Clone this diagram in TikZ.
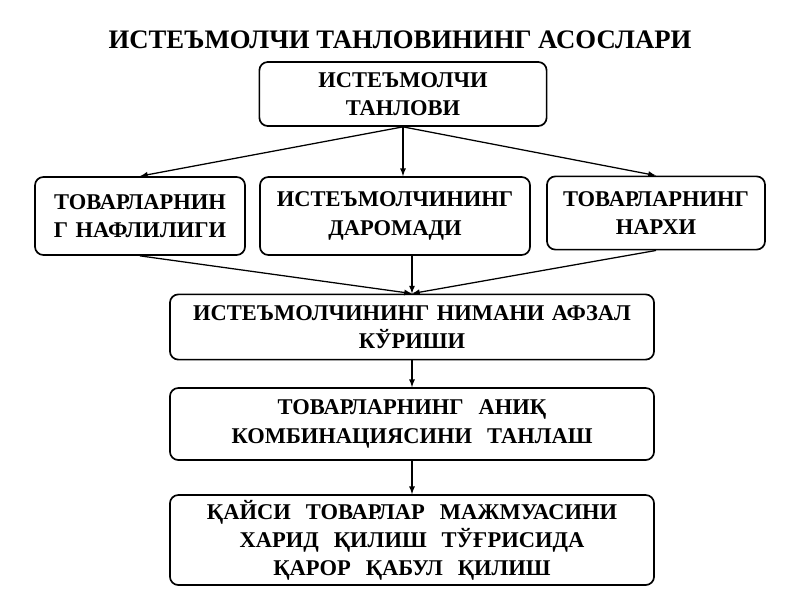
\documentclass[tikz,border=0pt]{standalone}
\usepackage{fontspec}
\setmainfont{Liberation Serif}
\usetikzlibrary{positioning}
\begin{document}
\begin{tikzpicture}[x=0.025cm,y=-0.025cm,->,>=latex]
  \tikzstyle{box}=[draw,rounded corners=6pt,line width=1.2pt,align=center,font=\fontsize{16}{20}\selectfont\bfseries,inner sep=2pt]
  \tikzstyle{line}=[draw,line width=0.9pt]
  \useasboundingbox (0,0) rectangle (800,600);
  \node[font=\fontsize{19}{22}\selectfont\bfseries] (title) at (400,40) {ИСТЕЪМОЛЧИ ТАНЛОВИНИНГ АСОСЛАРИ};
  \node[box,minimum width=7.18cm,minimum height=1.6cm,text width=6.9cm] (choice) at (403,94) {ИСТЕЪМОЛЧИ\\ТАНЛОВИ};
  \node[box,minimum width=5.25cm,minimum height=1.95cm,text width=5.1cm] (utility) at (140,216) {ТОВАРЛАРНИН\\Г НАФЛИЛИГИ};
  \node[box,minimum width=6.75cm,minimum height=1.95cm,text width=6.5cm] (income) at (395,216) {ИСТЕЪМОЛЧИНИНГ\\ДАРОМАДИ};
  \node[box,minimum width=5.45cm,minimum height=1.83cm,text width=5.3cm] (price) at (656,213) {ТОВАРЛАРНИНГ\\НАРХИ};
  \node[box,minimum width=12.1cm,minimum height=1.63cm,text width=11.5cm] (prefer) at (412,327) {ИСТЕЪМОЛЧИНИНГ НИМАНИ АФЗАЛ\\КЎРИШИ};
  \node[box,minimum width=12.1cm,minimum height=1.8cm,text width=11.5cm] (combo) at (412,424) {ТОВАРЛАРНИНГ\ \ АНИҚ\\КОМБИНАЦИЯСИНИ\ \ ТАНЛАШ};
  \node[box,minimum width=12.1cm,minimum height=2.25cm,text width=11.5cm] (decide) at (412,540) {ҚАЙСИ\ \ ТОВАРЛАР\ \ МАЖМУАСИНИ\\ХАРИД\ \ ҚИЛИШ\ \ ТЎҒРИСИДА\\ҚАРОР\ \ ҚАБУЛ\ \ ҚИЛИШ};
  % arrows
  \draw[line] (choice.south) -- (utility.north);
  \draw[line] (choice.south) -- (choice.south |- income.north);
  \draw[line] (choice.south) -- (price.north);
  \draw[line] (utility.south) -- (prefer.north);
  \draw[line] (prefer.north |- income.south) -- (prefer.north);
  \draw[line] (price.south) -- (prefer.north);
  \draw[line] (prefer) -- (combo);
  \draw[line] (combo) -- (decide);
\end{tikzpicture}
\end{document}
